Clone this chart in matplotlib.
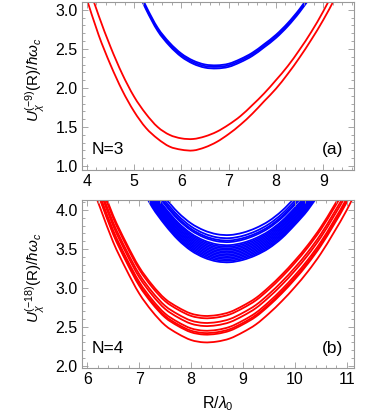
import matplotlib
matplotlib.use("Agg")
import matplotlib.pyplot as plt
from matplotlib.path import Path
from matplotlib.patches import PathPatch
from matplotlib.ticker import MultipleLocator, FormatStrFormatter

plt.rcParams['font.family'] = ['Liberation Sans', 'DejaVu Sans']
plt.rcParams['mathtext.fontset'] = 'custom'
plt.rcParams['mathtext.rm'] = 'Liberation Sans'
plt.rcParams['mathtext.it'] = 'Liberation Sans:italic'

# ---------------- panel (a): N=3 ----------------
a_red_x = [4.0, 4.25, 4.5, 4.75, 5.0, 5.25, 5.5, 5.75, 6.0, 6.25, 6.5, 6.75,
           7.0, 7.25, 7.5, 7.75, 8.0, 8.25, 8.5, 8.75, 9.0, 9.25, 9.5]
a_red_low = [3.14, 2.68, 2.30, 1.97, 1.70, 1.49, 1.35, 1.25, 1.21, 1.20, 1.24, 1.31,
             1.41, 1.53, 1.67, 1.83, 1.99, 2.18, 2.39, 2.62, 2.87, 3.15, 3.45]
a_red_up = [3.37, 2.93, 2.53, 2.18, 1.89, 1.67, 1.50, 1.40, 1.355, 1.347, 1.38, 1.44,
            1.53, 1.64, 1.78, 1.93, 2.10, 2.28, 2.49, 2.72, 2.98, 3.27, 3.56]

a_blue_x = [5.0, 5.25, 5.5, 5.75, 6.0, 6.25, 6.5, 6.75, 7.0, 7.25, 7.5, 7.75,
            8.0, 8.25, 8.5, 8.75]
a_blue_1 = [3.34, 3.01, 2.73, 2.54, 2.40, 2.31, 2.26, 2.25, 2.27, 2.33, 2.41, 2.52,
            2.64, 2.79, 2.97, 3.18]
a_blue_2 = [3.36, 3.03, 2.75, 2.56, 2.42, 2.33, 2.28, 2.27, 2.29, 2.35, 2.43, 2.54,
            2.66, 2.81, 2.99, 3.20]
a_blue_3 = [3.38, 3.05, 2.77, 2.58, 2.44, 2.35, 2.30, 2.29, 2.31, 2.37, 2.45, 2.56,
            2.68, 2.83, 3.01, 3.22]

# ---------------- panel (b): N=4 ----------------
b_red_x = [6.0, 6.25, 6.5, 6.75, 7.0, 7.25, 7.5, 7.75, 8.0, 8.25, 8.5, 8.75,
           9.0, 9.25, 9.5, 9.75, 10.0, 10.25, 10.5, 10.75, 11.0, 11.25]
b_red = [
    [4.47, 4.03, 3.59, 3.24, 2.93, 2.70, 2.52, 2.41, 2.33, 2.30, 2.31, 2.35, 2.43, 2.53, 2.67, 2.83, 3.01, 3.21, 3.44, 3.71, 4.00, 4.33],
    [4.57, 4.13, 3.69, 3.34, 3.03, 2.80, 2.62, 2.51, 2.43, 2.40, 2.41, 2.45, 2.53, 2.63, 2.77, 2.93, 3.11, 3.31, 3.54, 3.81, 4.10, 4.43],
    [4.59, 4.15, 3.71, 3.36, 3.05, 2.82, 2.64, 2.53, 2.45, 2.42, 2.43, 2.47, 2.55, 2.65, 2.79, 2.95, 3.13, 3.33, 3.56, 3.83, 4.12, 4.45],
    [4.62, 4.18, 3.74, 3.39, 3.08, 2.85, 2.67, 2.56, 2.48, 2.45, 2.46, 2.50, 2.58, 2.68, 2.82, 2.98, 3.16, 3.36, 3.59, 3.86, 4.15, 4.48],
    [4.68, 4.24, 3.80, 3.45, 3.14, 2.91, 2.73, 2.62, 2.54, 2.51, 2.52, 2.56, 2.64, 2.74, 2.88, 3.04, 3.22, 3.42, 3.65, 3.92, 4.21, 4.54],
    [4.72, 4.28, 3.84, 3.49, 3.18, 2.95, 2.77, 2.66, 2.58, 2.55, 2.56, 2.60, 2.68, 2.78, 2.92, 3.08, 3.26, 3.46, 3.69, 3.96, 4.25, 4.58],
    [4.78, 4.34, 3.90, 3.55, 3.24, 3.01, 2.83, 2.72, 2.64, 2.61, 2.62, 2.66, 2.74, 2.84, 2.98, 3.14, 3.32, 3.52, 3.75, 4.02, 4.31, 4.64],
    [4.81, 4.37, 3.93, 3.58, 3.27, 3.04, 2.86, 2.75, 2.67, 2.64, 2.65, 2.69, 2.77, 2.87, 3.01, 3.17, 3.35, 3.55, 3.78, 4.05, 4.34, 4.67],
]

b_blue_x = [7.0, 7.25, 7.5, 7.75, 8.0, 8.25, 8.5, 8.75, 9.0, 9.25, 9.5, 9.75,
            10.0, 10.25, 10.5]
b_blue = [
    [4.69, 4.39, 4.16, 3.97, 3.83, 3.74, 3.69, 3.68, 3.71, 3.77, 3.86, 3.99, 4.16, 4.35, 4.59],
    [4.65, 4.35, 4.12, 3.93, 3.79, 3.70, 3.65, 3.64, 3.67, 3.73, 3.82, 3.95, 4.12, 4.31, 4.55],
    [4.62, 4.32, 4.09, 3.90, 3.76, 3.67, 3.62, 3.61, 3.64, 3.70, 3.79, 3.92, 4.09, 4.28, 4.52],
    [4.60, 4.30, 4.07, 3.88, 3.74, 3.65, 3.60, 3.59, 3.62, 3.68, 3.77, 3.90, 4.07, 4.26, 4.50],
    [4.56, 4.26, 4.03, 3.84, 3.70, 3.61, 3.56, 3.55, 3.58, 3.64, 3.73, 3.86, 4.03, 4.22, 4.46],
    [4.54, 4.24, 4.01, 3.82, 3.68, 3.59, 3.54, 3.53, 3.56, 3.62, 3.71, 3.84, 4.01, 4.20, 4.44],
    [4.52, 4.22, 3.99, 3.80, 3.66, 3.57, 3.52, 3.51, 3.54, 3.60, 3.69, 3.82, 3.99, 4.18, 4.42],
    [4.50, 4.20, 3.97, 3.78, 3.64, 3.55, 3.50, 3.49, 3.52, 3.58, 3.67, 3.80, 3.97, 4.16, 4.40],
    [4.48, 4.18, 3.95, 3.76, 3.62, 3.53, 3.48, 3.47, 3.50, 3.56, 3.65, 3.78, 3.95, 4.14, 4.38],
    [4.46, 4.16, 3.93, 3.74, 3.60, 3.51, 3.46, 3.45, 3.48, 3.54, 3.63, 3.76, 3.93, 4.12, 4.36],
    [4.44, 4.14, 3.91, 3.72, 3.58, 3.49, 3.44, 3.43, 3.46, 3.52, 3.61, 3.74, 3.91, 4.10, 4.34],
    [4.42, 4.12, 3.89, 3.70, 3.56, 3.47, 3.42, 3.41, 3.44, 3.50, 3.59, 3.72, 3.89, 4.08, 4.32],
    [4.40, 4.10, 3.87, 3.68, 3.54, 3.45, 3.40, 3.39, 3.42, 3.48, 3.57, 3.70, 3.87, 4.06, 4.30],
    [4.38, 4.08, 3.85, 3.66, 3.52, 3.43, 3.38, 3.37, 3.40, 3.46, 3.55, 3.68, 3.85, 4.04, 4.28],
    [4.36, 4.06, 3.83, 3.64, 3.50, 3.41, 3.36, 3.35, 3.38, 3.44, 3.53, 3.66, 3.83, 4.02, 4.26],
    [4.34, 4.04, 3.81, 3.62, 3.48, 3.39, 3.34, 3.33, 3.36, 3.42, 3.51, 3.64, 3.81, 4.00, 4.24],
]

a_xticks = [4, 5, 6, 7, 8, 9]
a_yticks = [1.0, 1.5, 2.0, 2.5, 3.0]
b_xticks = [6, 7, 8, 9, 10, 11]
b_yticks = [2.0, 2.5, 3.0, 3.5, 4.0]

RED = '#ff0000'
BLUE = '#0000ff'
FRAME = '#999999'
LW = 1.3
TICKFS = 11.5
TEXTFS = 12.5


def smooth_curve(ax, xs, ys, color):
    """Draw a smooth (Catmull-Rom as cubic Bezier) curve through the given data points."""
    pts = list(zip(xs, ys))
    n = len(pts)
    verts = [pts[0]]
    codes = [Path.MOVETO]
    for i in range(n - 1):
        p0 = pts[i - 1] if i > 0 else pts[i]
        p1 = pts[i]
        p2 = pts[i + 1]
        p3 = pts[i + 2] if i + 2 < n else pts[i + 1]
        c1 = (p1[0] + (p2[0] - p0[0]) / 6.0, p1[1] + (p2[1] - p0[1]) / 6.0)
        c2 = (p2[0] - (p3[0] - p1[0]) / 6.0, p2[1] - (p3[1] - p1[1]) / 6.0)
        verts += [c1, c2, p2]
        codes += [Path.CURVE4, Path.CURVE4, Path.CURVE4]
    ax.add_patch(PathPatch(Path(verts, codes), fill=False, edgecolor=color,
                           lw=LW, capstyle='butt', joinstyle='round'))


fig = plt.figure(figsize=(3.74, 4.20), dpi=100)
ax1 = fig.add_axes([82 / 374, 1 - 170 / 420, 272 / 374, 168 / 420])
ax2 = fig.add_axes([82 / 374, 1 - 368 / 420, 272 / 374, 168 / 420])


def style(ax, xt, yt):
    for s in ax.spines.values():
        s.set_color(FRAME)
        s.set_linewidth(0.8)
    ax.set_xticks(xt)
    ax.set_yticks(yt)
    ax.xaxis.set_minor_locator(MultipleLocator(0.2))
    ax.yaxis.set_minor_locator(MultipleLocator(0.1))
    ax.yaxis.set_major_formatter(FormatStrFormatter('%.1f'))
    ax.tick_params(which='both', direction='in', top=True, right=True,
                   color=FRAME, width=0.6, labelsize=TICKFS, labelcolor='black', pad=3)
    ax.tick_params(which='major', length=4)
    ax.tick_params(which='minor', length=2)


# panel (a)
for yb in (a_blue_1, a_blue_2, a_blue_3):
    smooth_curve(ax1, a_blue_x, yb, BLUE)
smooth_curve(ax1, a_red_x, a_red_low, RED)
smooth_curve(ax1, a_red_x, a_red_up, RED)
ax1.set_xlim(3.9, 9.65)
ax1.set_ylim(0.95, 3.1)
style(ax1, a_xticks, a_yticks)
ax1.set_ylabel(r'$U_{\chi}^{(-9)}$(R)/$\hbar\omega_c$', fontsize=11)
ax1.yaxis.set_label_coords(-0.13, 0.54)
ax1.text(0.036, 0.095, 'N=3', transform=ax1.transAxes, fontsize=TEXTFS, va='baseline', ha='left')
ax1.text(0.96, 0.095, '(a)', transform=ax1.transAxes, fontsize=TEXTFS, va='baseline', ha='right')

# panel (b)
for yb in b_blue:
    smooth_curve(ax2, b_blue_x, yb, BLUE)
for yr in b_red:
    smooth_curve(ax2, b_red_x, yr, RED)
ax2.set_xlim(5.9, 11.14)
ax2.set_ylim(1.97, 4.13)
style(ax2, b_xticks, b_yticks)
ax2.set_ylabel(r'$U_{\chi}^{(-18)}$(R)/$\hbar\omega_c$', fontsize=11)
ax2.yaxis.set_label_coords(-0.13, 0.54)
ax2.set_xlabel(r'R/$\lambda_0$', fontsize=11.5, labelpad=5)
ax2.text(0.036, 0.088, 'N=4', transform=ax2.transAxes, fontsize=TEXTFS, va='baseline', ha='left')
ax2.text(0.96, 0.088, '(b)', transform=ax2.transAxes, fontsize=TEXTFS, va='baseline', ha='right')

fig.savefig('out.png', dpi=100)
